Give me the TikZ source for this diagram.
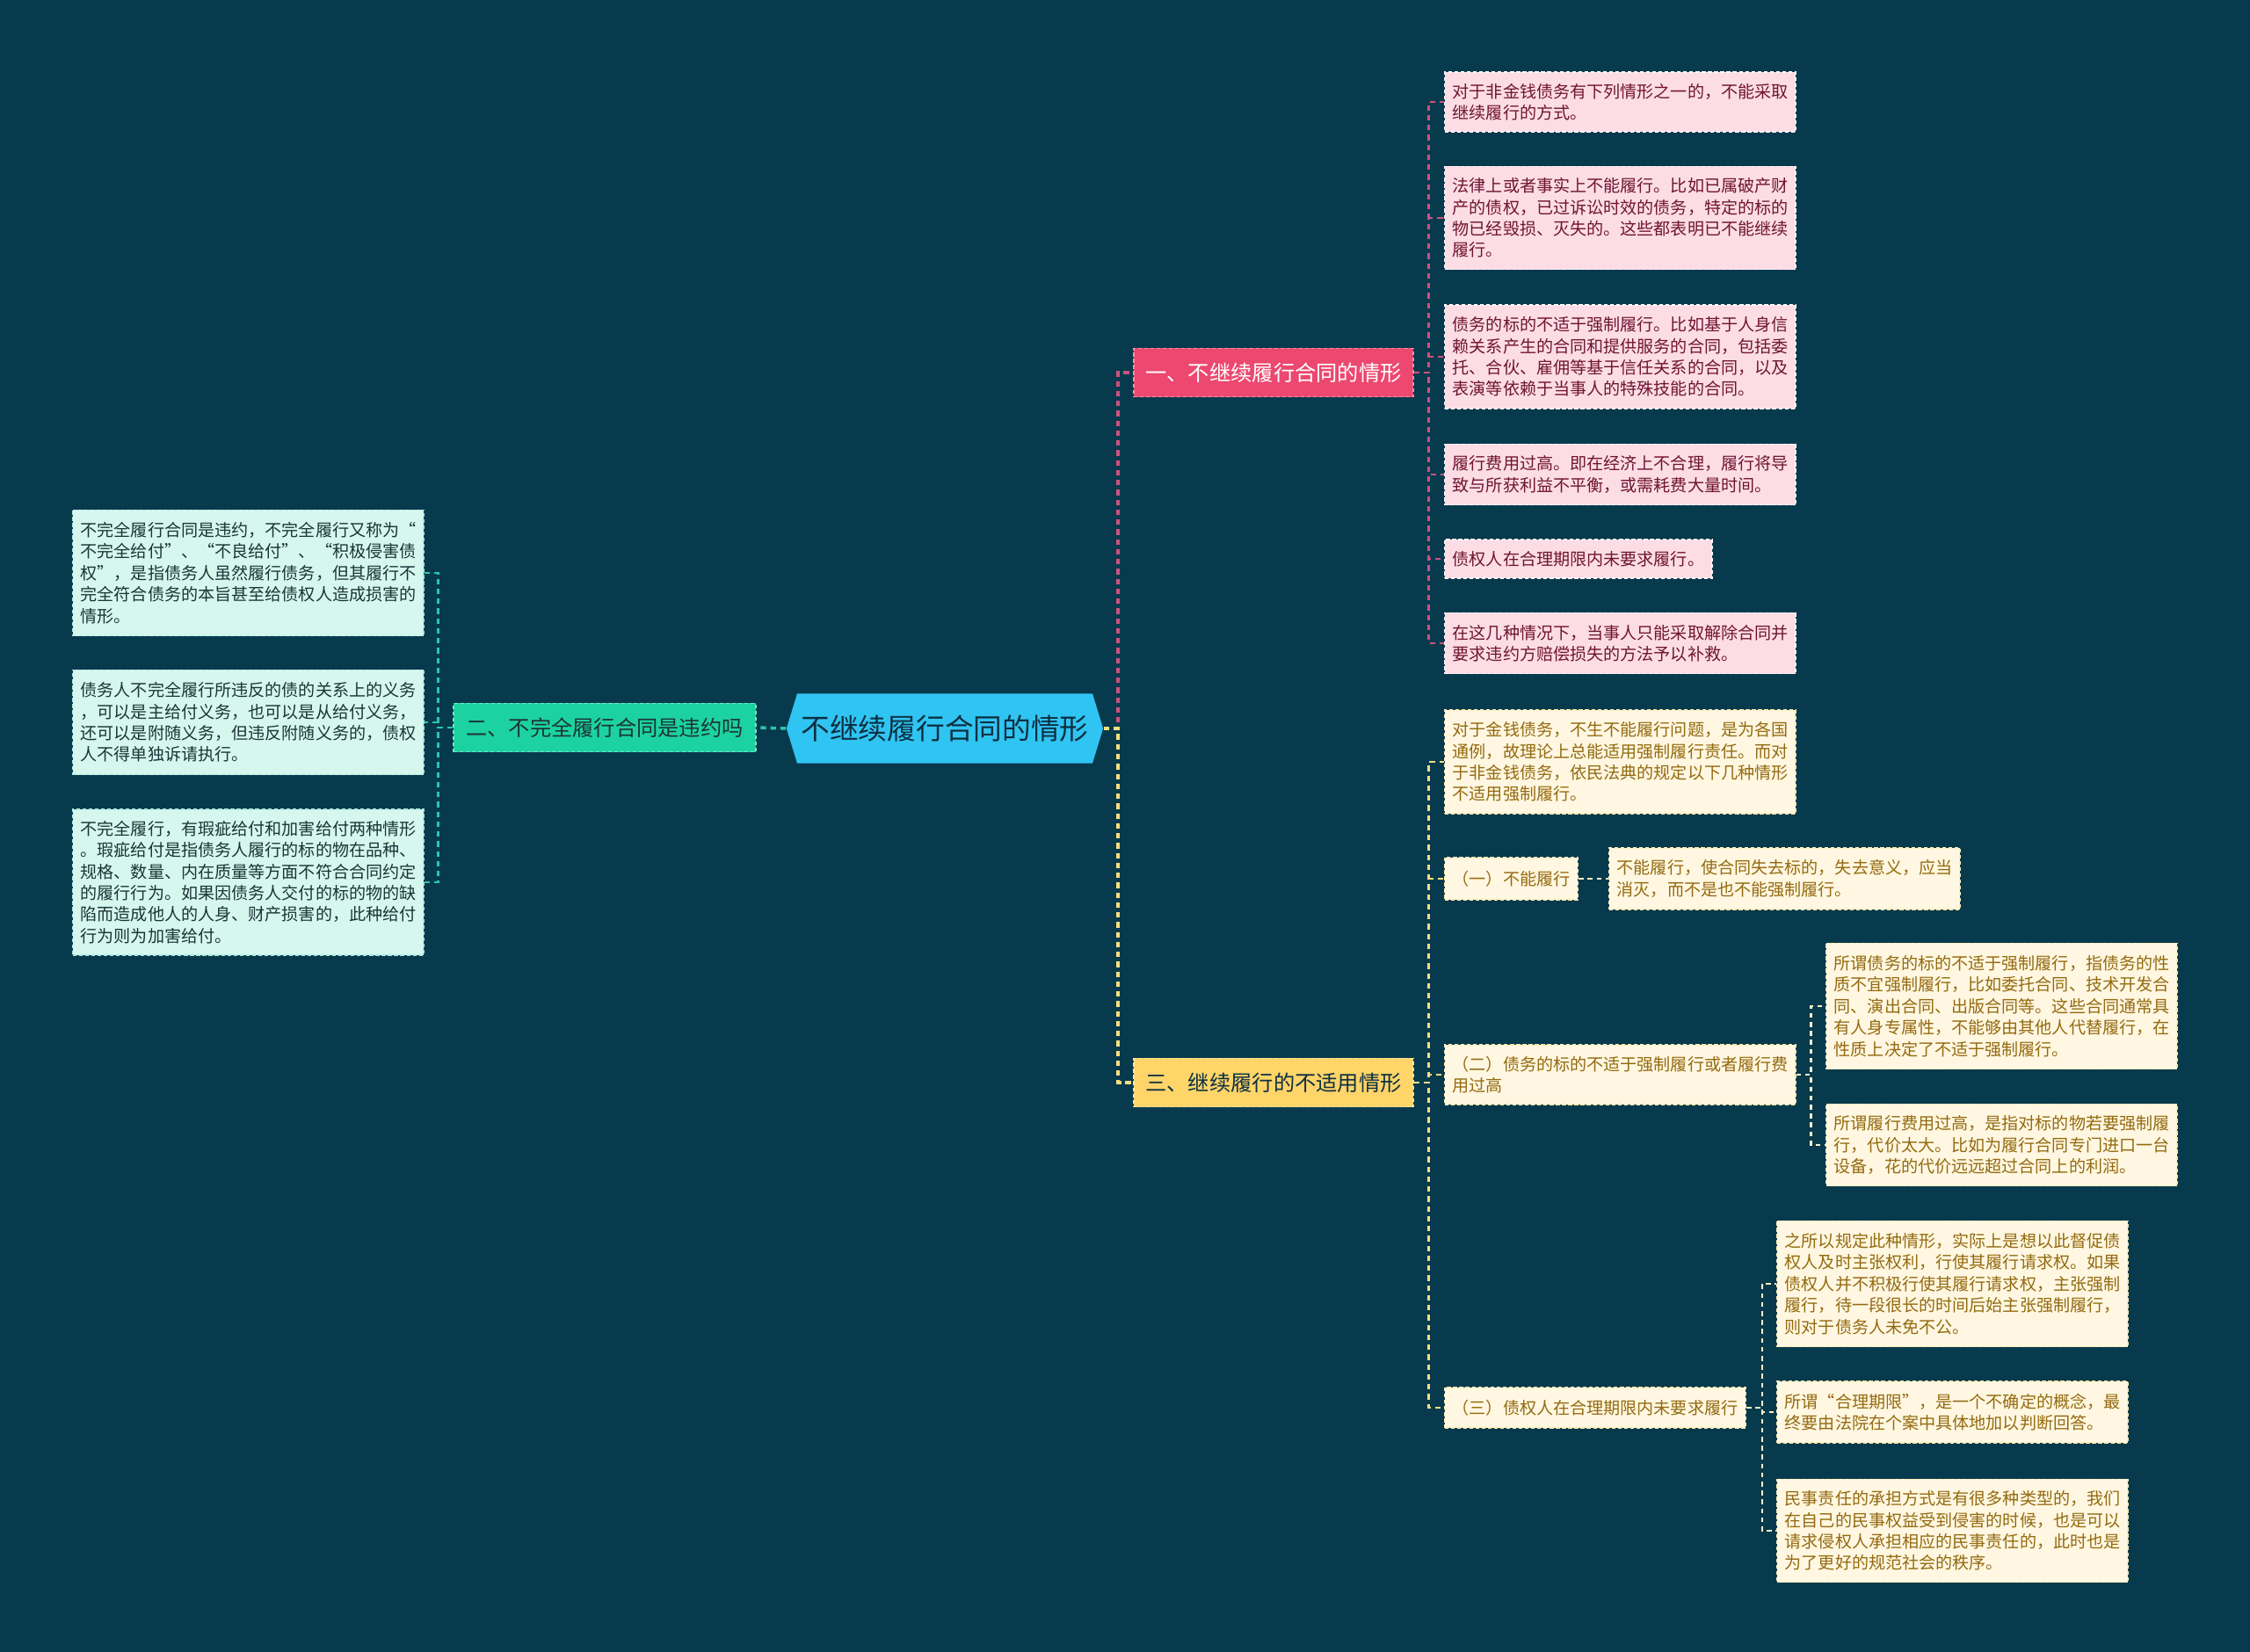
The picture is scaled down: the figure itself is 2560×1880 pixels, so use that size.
\documentclass[tikz,border=0pt]{standalone}
\usepackage{fontspec}
\setmainfont{Noto Sans CJK SC}
\usepackage{tikz}
\usetikzlibrary{positioning,calc,shapes.symbols}

\definecolor{bgdark}{RGB}{8,58,77}
\definecolor{hubblue}{RGB}{48,196,242}
\definecolor{hubtext}{RGB}{12,48,66}
\definecolor{pinkmain}{RGB}{236,72,112}
\definecolor{pinkleaf}{RGB}{252,221,229}
\definecolor{pinktext}{RGB}{112,20,50}
\definecolor{pinkline}{RGB}{205,82,128}
\definecolor{yelmain}{RGB}{255,212,104}
\definecolor{yelleaf}{RGB}{255,247,225}
\definecolor{yeltext}{RGB}{148,106,16}
\definecolor{yelline}{RGB}{250,222,128}
\definecolor{tealmain}{RGB}{28,210,160}
\definecolor{tealleaf}{RGB}{214,247,238}
\definecolor{tealtext}{RGB}{28,52,54}
\definecolor{tealline}{RGB}{40,200,170}

\newcommand{\leaffont}{\fontsize{5.43pt}{6.95pt}\selectfont}

\begin{document}
\begin{tikzpicture}[x=0.01cm, y=-0.01cm,
  hub/.style={signal, signal to=west and east, signal pointer angle=146, fill=hubblue,
    text=hubtext, font=\fontsize{9.3pt}{11pt}\selectfont, minimum width=3.6cm,
    minimum height=0.79cm, inner sep=0pt},
  mainbox/.style={draw, dash pattern=on 1.2pt off 0.8pt, line width=0.4pt,
    minimum width=3.18cm, minimum height=0.55cm, inner sep=0pt,
    font=\fontsize{6.9pt}{8pt}\selectfont},
  leafbox/.style={draw, dash pattern=on 1.2pt off 0.8pt, line width=0.4pt,
    text width=3.81cm, inner xsep=0.09cm, inner ysep=0pt, align=left,
    anchor=west, font=\leaffont},
  tagbox/.style={draw, dash pattern=on 1.2pt off 0.8pt, line width=0.4pt,
    inner xsep=0.09cm, inner ysep=0pt, anchor=west, font=\leaffont},
  pleaf/.style={leafbox, fill=pinkleaf, draw=white!75!pinkleaf, text=pinktext},
  yleaf/.style={leafbox, fill=yelleaf, draw=white!40!yelline, text=yeltext},
  tleaf/.style={leafbox, fill=tealleaf, draw=white!60!tealline, text=tealtext},
  link/.style={line width=1pt, dash pattern=on 1.8pt off 1.4pt},
  sublink/.style={line width=0.8pt, dash pattern=on 1.6pt off 1.3pt, draw=yelleaf!75!yelline}]

% Background
\fill[bgdark] (0,0) rectangle (2560,1880);

% Central topic
\node[hub] (hub) at (1075,829) {不继续履行合同的情形};

% Main branches
\node[mainbox, fill=pinkmain, draw=pinkmain!60!white, text=white] (pmain) at (1449,424) {一、不继续履行合同的情形};
\node[mainbox, fill=yelmain, draw=yelmain!60!white, text=hubtext] (ymain) at (1449,1232) {三、继续履行的不适用情形};
\node[mainbox, fill=tealmain, draw=tealmain!60!white, text=tealtext, minimum width=3.44cm] (tmain) at (688,828) {二、不完全履行合同是违约吗};

% Pink leaves
\node[pleaf, minimum height=0.68cm] (pl1) at (1643,116) {对于非金钱债务有下列情形之一的，不能采取\\继续履行的方式。};
\node[pleaf, minimum height=1.17cm] (pl2) at (1643,248) {法律上或者事实上不能履行。比如已属破产财\\产的债权，已过诉讼时效的债务，特定的标的\\物已经毁损、灭失的。这些都表明已不能继续\\履行。};
\node[pleaf, minimum height=1.18cm] (pl3) at (1643,406) {债务的标的不适于强制履行。比如基于人身信\\赖关系产生的合同和提供服务的合同，包括委\\托、合伙、雇佣等基于信任关系的合同，以及\\表演等依赖于当事人的特殊技能的合同。};
\node[pleaf, minimum height=0.69cm] (pl4) at (1643,540) {履行费用过高。即在经济上不合理，履行将导\\致与所获利益不平衡，或需耗费大量时间。};
\node[tagbox, fill=pinkleaf, draw=white!75!pinkleaf, text=pinktext, minimum height=0.44cm] (pl5) at (1643,636) {债权人在合理期限内未要求履行。};
\node[pleaf, minimum height=0.69cm] (pl6) at (1643,732) {在这几种情况下，当事人只能采取解除合同并\\要求违约方赔偿损失的方法予以补救。};

% Teal leaves
\node[tleaf, minimum height=1.43cm] (tl1) at (82,652) {不完全履行合同是违约，不完全履行又称为“\\不完全给付”、“不良给付”、“积极侵害债\\权”，是指债务人虽然履行债务，但其履行不\\完全符合债务的本旨甚至给债权人造成损害的\\情形。};
\node[tleaf, minimum height=1.19cm] (tl2) at (82,822) {债务人不完全履行所违反的债的关系上的义务\\，可以是主给付义务，也可以是从给付义务，\\还可以是附随义务，但违反附随义务的，债权\\人不得单独诉请执行。};
\node[tleaf, minimum height=1.66cm] (tl3) at (82,1004) {不完全履行，有瑕疵给付和加害给付两种情形\\。瑕疵给付是指债务人履行的标的物在品种、\\规格、数量、内在质量等方面不符合合同约定\\的履行行为。如果因债务人交付的标的物的缺\\陷而造成他人的人身、财产损害的，此种给付\\行为则为加害给付。};

% Yellow leaves
\node[yleaf, minimum height=1.18cm] (yl1) at (1643,867) {对于金钱债务，不生不能履行问题，是为各国\\通例，故理论上总能适用强制履行责任。而对\\于非金钱债务，依民法典的规定以下几种情形\\不适用强制履行。};
\node[tagbox, fill=yelleaf, draw=white!40!yelline, text=yeltext, minimum height=0.48cm] (ys1) at (1643,1000) {（一）不能履行};
\node[yleaf, minimum height=0.70cm] (ys1a) at (1830,1000) {不能履行，使合同失去标的，失去意义，应当\\消灭，而不是也不能强制履行。};
\node[yleaf, minimum height=0.68cm] (ys2) at (1643,1223) {（二）债务的标的不适于强制履行或者履行费\\用过高};
\node[yleaf, minimum height=1.43cm] (ys2a) at (2077,1145) {所谓债务的标的不适于强制履行，指债务的性\\质不宜强制履行，比如委托合同、技术开发合\\同、演出合同、出版合同等。这些合同通常具\\有人身专属性，不能够由其他人代替履行，在\\性质上决定了不适于强制履行。};
\node[yleaf, minimum height=0.93cm] (ys2b) at (2077,1303) {所谓履行费用过高，是指对标的物若要强制履\\行，代价太大。比如为履行合同专门进口一台\\设备，花的代价远远超过合同上的利润。};
\node[tagbox, fill=yelleaf, draw=white!40!yelline, text=yeltext, minimum height=0.46cm] (ys3) at (1643,1602) {（三）债权人在合理期限内未要求履行};
\node[yleaf, minimum height=1.43cm] (ys3a) at (2021,1461) {之所以规定此种情形，实际上是想以此督促债\\权人及时主张权利，行使其履行请求权。如果\\债权人并不积极行使其履行请求权，主张强制\\履行，待一段很长的时间后始主张强制履行，\\则对于债务人未免不公。};
\node[yleaf, minimum height=0.70cm] (ys3b) at (2021,1607) {所谓“合理期限”，是一个不确定的概念，最\\终要由法院在个案中具体地加以判断回答。};
\node[yleaf, minimum height=1.17cm] (ys3c) at (2021,1742) {民事责任的承担方式是有很多种类型的，我们\\在自己的民事权益受到侵害的时候，也是可以\\请求侵权人承担相应的民事责任的，此时也是\\为了更好的规范社会的秩序。};

% Hub to main branches
\draw[link, pinkline] (hub.east) -- ++(16,0) |- (pmain.west);
\draw[link, yelline] (hub.east) -- ++(16,0) |- (ymain.west);
\draw[link, tealline] (hub.west) -- (tmain.east);

% Pink branch
\foreach \leaf in {pl1,pl2,pl3,pl4,pl5,pl6}
  \draw[link, pinkline, line width=0.8pt] (pmain.east) -- ++(17,0) |- (\leaf.west);

% Teal branch
\foreach \leaf in {tl1,tl2,tl3}
  \draw[link, tealline, line width=0.8pt] (tmain.west) -- ++(-17,0) |- (\leaf.east);

% Yellow branch
\foreach \leaf in {yl1,ys1,ys2,ys3}
  \draw[link, yelline, line width=0.8pt] (ymain.east) -- ++(17,0) |- (\leaf.west);
\draw[sublink] (ys1.east) -- (ys1a.west);
\foreach \leaf in {ys2a,ys2b}
  \draw[sublink] (ys2.east) -- ++(17,0) |- (\leaf.west);
\foreach \leaf in {ys3a,ys3b,ys3c}
  \draw[sublink] (ys3.east) -- ++(18,0) |- (\leaf.west);

\end{tikzpicture}
\end{document}
